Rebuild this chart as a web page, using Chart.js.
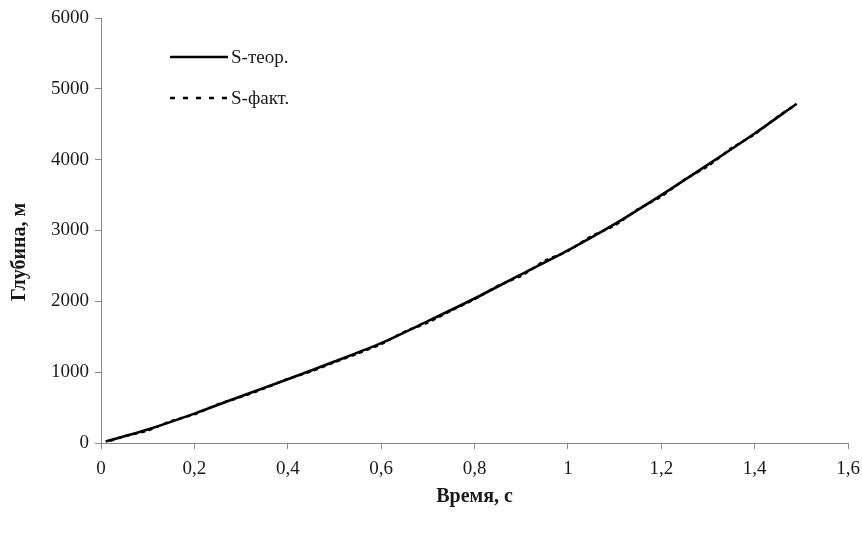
<!DOCTYPE html>
<html>
<head>
<meta charset="utf-8">
<script src="https://cdn.jsdelivr.net/npm/chart.js@4.4.1/dist/chart.umd.min.js"></script>
<style>
  html, body { margin: 0; padding: 0; background: #fff; }
  #wrap { width: 862px; height: 537px; }
</style>
</head>
<body>
<div id="wrap"><canvas id="depth"></canvas></div>
<script>
// S-теор.
const timeTheor = [0.01, 0.1, 0.2, 0.3, 0.4, 0.5, 0.6, 0.7, 0.8, 0.9, 1.0, 1.1, 1.2, 1.3, 1.4, 1.49];
const depthTheor = [20, 190, 415, 660, 900, 1150, 1410, 1720, 2040, 2380, 2720, 3090, 3500, 3930, 4370, 4790];

// S-факт.
const timeFact = [0.02, 0.05, 0.1, 0.15, 0.2, 0.25, 0.3, 0.35, 0.4, 0.45, 0.5, 0.55, 0.6, 0.65, 0.7, 0.75,
  0.8, 0.85, 0.9, 0.95, 1.0, 1.05, 1.1, 1.15, 1.2, 1.25, 1.3, 1.35, 1.4, 1.45, 1.48];
const depthFact = [30, 95, 175, 310, 405, 545, 650, 770, 905, 1010, 1140, 1265, 1395, 1570, 1700, 1870,
  2030, 2220, 2360, 2570, 2710, 2920, 3070, 3300, 3480, 3720, 3910, 4160, 4360, 4610, 4740];

const xTicks = [0, 0.2, 0.4, 0.6, 0.8, 1, 1.2, 1.4, 1.6];

const toPoints = (xs, ys) => xs.map((x, i) => ({ x: x, y: ys[i] }));

const serif = '"Liberation Serif", "Times New Roman", serif';
const axisGray = '#8a8a8a';
const ink = '#1a1a1a';

// legend inside the plot (top-left) and the y title, which sits a bit below the axis middle
const extras = {
  id: 'extras',
  afterDraw(chart) {
    const ctx = chart.ctx;
    const x0 = 170, x1 = 228;
    const rows = [57, 98];
    ctx.save();
    chart.data.datasets.forEach((ds, i) => {
      const y = rows[i];
      ctx.beginPath();
      ctx.strokeStyle = ds.borderColor;
      ctx.lineWidth = 2.7;
      ctx.setLineDash(ds.legendDash || []);
      ctx.moveTo(x0, y);
      ctx.lineTo(x1, y);
      ctx.stroke();
      ctx.setLineDash([]);
      ctx.fillStyle = ink;
      ctx.font = '19px ' + serif;
      ctx.textBaseline = 'middle';
      ctx.fillText(ds.label, x1 + 3, y + 1);
    });

    ctx.translate(20, 252);
    ctx.rotate(-Math.PI / 2);
    ctx.font = 'bold 20px ' + serif;
    ctx.textAlign = 'center';
    ctx.textBaseline = 'middle';
    ctx.fillText('Глубина, м', 0, 0);
    ctx.restore();
  }
};

new Chart(document.getElementById('depth'), {
  type: 'line',
  data: {
    datasets: [{
      label: 'S-теор.',
      data: toPoints(timeTheor, depthTheor),
      borderColor: '#000',
      borderWidth: 2.6,
      pointRadius: 0,
      tension: 0.3
    }, {
      label: 'S-факт.',
      data: toPoints(timeFact, depthFact),
      borderColor: '#000',
      borderWidth: 2.4,
      borderDash: [4, 4],
      legendDash: [5, 8],
      pointRadius: 0,
      tension: 0.2
    }]
  },
  options: {
    responsive: true,
    maintainAspectRatio: false,
    animation: false,
    layout: { padding: { left: 0, top: 18, right: 14, bottom: 0 } },
    plugins: {
      legend: { display: false },
      tooltip: { enabled: false }
    },
    scales: {
      x: {
        type: 'linear',
        min: 0,
        max: 1.6,
        afterBuildTicks: (scale) => { scale.ticks = xTicks.map(v => ({ value: v })); },
        afterFit: (scale) => {
          scale.height = 94;
          scale.paddingRight = 0;
        },
        ticks: {
          color: ink,
          font: { family: serif, size: 19 },
          padding: 9,
          maxRotation: 0,
          callback: (v) => String(Number(v.toFixed(1))).replace('.', ',')
        },
        grid: { drawOnChartArea: false, color: axisGray, tickLength: 6, tickColor: axisGray },
        border: { color: axisGray, width: 1 },
        title: {
          display: true,
          text: 'Время, с',
          color: ink,
          font: { family: serif, size: 20, weight: 'bold' },
          padding: { top: 10, bottom: 28 }
        }
      },
      y: {
        min: 0,
        max: 6000,
        afterFit: (scale) => { scale.width = 101; },
        ticks: {
          stepSize: 1000,
          color: ink,
          font: { family: serif, size: 19 },
          padding: 6,
          callback: (v) => String(v)
        },
        grid: { drawOnChartArea: false, color: axisGray, tickLength: 6, tickColor: axisGray },
        border: { color: axisGray, width: 1 }
      }
    }
  },
  plugins: [extras]
});
</script>
</body>
</html>
